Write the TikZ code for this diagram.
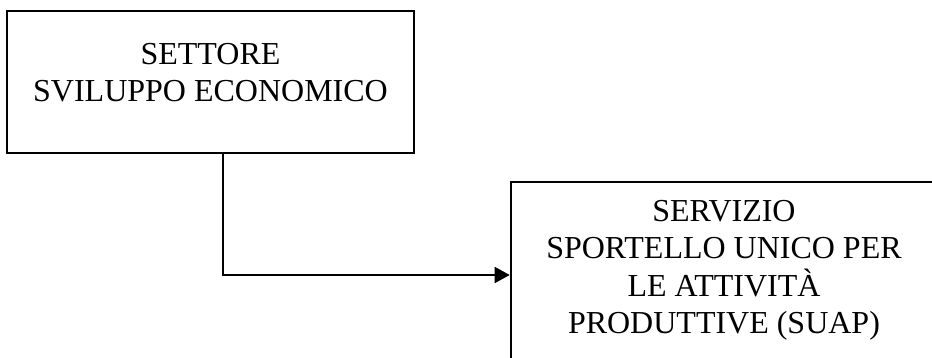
\documentclass[tikz,border=0pt]{standalone}
\usepackage{fontspec}
\setmainfont{Liberation Serif}
\usetikzlibrary{arrows.meta}

\begin{document}
\begin{tikzpicture}[x=1pt,y=-1pt,
    box/.style={draw, line width=2.6pt, align=center,
        font=\fontsize{32}{37.5}\selectfont, inner sep=0pt}]
                \useasboundingbox (0,0) rectangle (932,358);
                \node[box, minimum width=407pt, minimum height=142pt, text depth=19pt] (Settore) at (210.5,82)
                    {SETTORE\\SVILUPPO ECONOMICO};
                % box runs past the right and bottom edges
                \node[box, minimum width=426pt, minimum height=186pt, text depth=16pt] (SUAP) at (724,275)
                    {SERVIZIO\\SPORTELLO UNICO PER\\LE ATTIVITÀ\\PRODUTTIVE (SUAP)};
                \draw[-{Triangle[length=15pt,width=16pt]}, line width=1.8pt] ([xshift=12.5pt]Settore.south) |- (SUAP.west);
            \end{tikzpicture}
\end{document}
